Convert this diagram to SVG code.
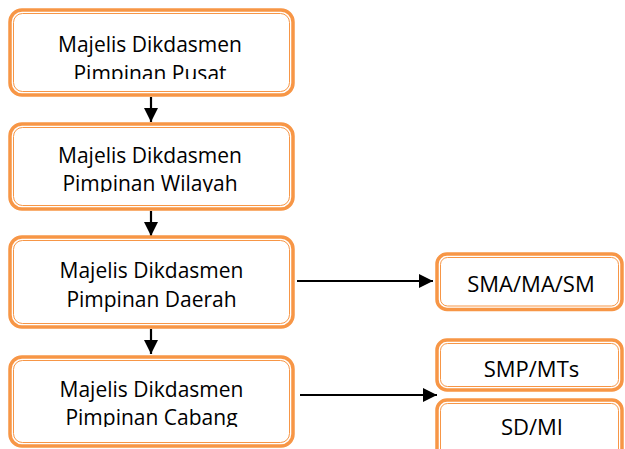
<svg xmlns="http://www.w3.org/2000/svg" width="625" height="449" viewBox="0 0 625 449">
<style>
.outer{fill:#fff;stroke:#F79646;stroke-width:3.5}
.inner{fill:none;stroke:#F79646;stroke-width:1}
.t{font-family:"Open Sans","Liberation Sans",sans-serif;font-size:21px;fill:#000;text-anchor:middle}
.s{font-family:"Open Sans","Liberation Sans",sans-serif;font-size:22px;fill:#000;text-anchor:middle}
.c{stroke:#000;stroke-width:2.2;fill:none}
</style>
<defs>
<marker id="ah2" viewBox="0 0 14 14" refX="14" refY="7" markerWidth="14" markerHeight="14" orient="auto" markerUnits="userSpaceOnUse">
<path d="M0,0 L14,7 L0,14 Z" fill="#000"/>
</marker>
<clipPath id="c1"><rect x="10" y="10" width="283" height="69"/></clipPath>
<clipPath id="c2"><rect x="10" y="124" width="283" height="68"/></clipPath>
<clipPath id="c4"><rect x="10" y="357" width="283" height="70"/></clipPath>
</defs>
<g id="connectors">
<line class="c" x1="151" y1="97" x2="151" y2="122" marker-end="url(#ah2)"/>
<line class="c" x1="151" y1="211" x2="151" y2="236" marker-end="url(#ah2)"/>
<line class="c" x1="151" y1="329" x2="151" y2="354" marker-end="url(#ah2)"/>
<line class="c" x1="297" y1="281" x2="433" y2="281" marker-end="url(#ah2)"/>
<line class="c" x1="300" y1="395" x2="437" y2="395" marker-end="url(#ah2)"/>
</g>
<g id="pusat">
<rect class="outer" x="10" y="10" width="283" height="85" rx="12"/>
<rect class="inner" x="13.5" y="13.5" width="276" height="78" rx="9"/>
<g clip-path="url(#c1)">
<text class="t" x="150" y="52">Majelis Dikdasmen</text>
<text class="t" x="150" y="81">Pimpinan Pusat</text>
</g>
</g>
<g id="wilayah">
<rect class="outer" x="10" y="124" width="283" height="85" rx="12"/>
<rect class="inner" x="13.5" y="127.5" width="276" height="78" rx="9"/>
<g clip-path="url(#c2)">
<text class="t" x="150" y="163">Majelis Dikdasmen</text>
<text class="t" x="150" y="191">Pimpinan Wilayah</text>
</g>
</g>
<g id="daerah">
<rect class="outer" x="10" y="237" width="283" height="90" rx="12"/>
<rect class="inner" x="13.5" y="240.5" width="276" height="83" rx="9"/>
<text class="t" x="151.5" y="278">Majelis Dikdasmen</text>
<text class="t" x="151.5" y="307">Pimpinan Daerah</text>
</g>
<g id="cabang">
<rect class="outer" x="10" y="357" width="283" height="89" rx="12"/>
<rect class="inner" x="13.5" y="360.5" width="276" height="82" rx="9"/>
<g clip-path="url(#c4)">
<text class="t" x="151.5" y="397">Majelis Dikdasmen</text>
<text class="t" x="151.5" y="425">Pimpinan Cabang</text>
</g>
</g>
<g id="sma">
<rect class="outer" x="437" y="254" width="185" height="55.5" rx="10"/>
<rect class="inner" x="440.5" y="257.5" width="178" height="48.5" rx="7"/>
<text class="s" x="531" y="292">SMA/MA/SM</text>
</g>
<g id="smp">
<rect class="outer" x="437" y="340" width="185" height="50" rx="10"/>
<rect class="inner" x="440.5" y="343.5" width="178" height="43" rx="7"/>
<text class="s" x="531.5" y="377">SMP/MTs</text>
</g>
<g id="sd">
<rect class="outer" x="437" y="400" width="185" height="60" rx="10"/>
<rect class="inner" x="440.5" y="403.5" width="178" height="53" rx="7"/>
<text class="s" x="532" y="435">SD/MI</text>
</g>
</svg>
